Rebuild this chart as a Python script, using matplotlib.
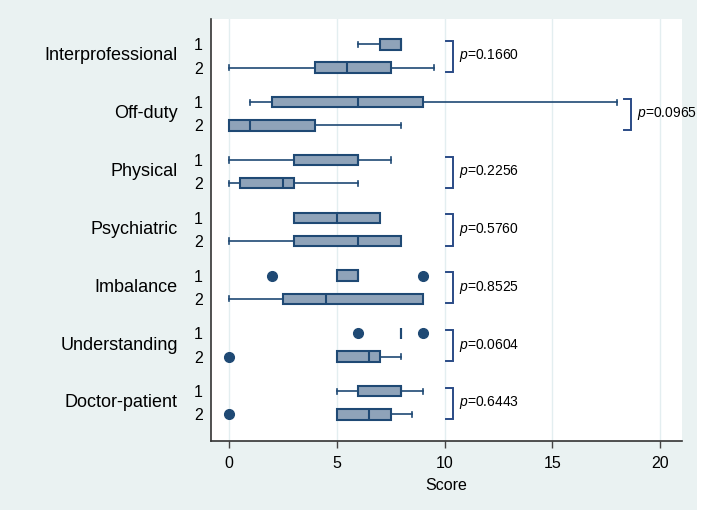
import matplotlib
matplotlib.use('Agg')
import matplotlib.pyplot as plt
from matplotlib.patches import Rectangle
import numpy as np

plt.rcParams['font.family'] = ['Liberation Sans', 'DejaVu Sans']
plt.rcParams['mathtext.fontset'] = 'custom'
plt.rcParams['mathtext.it'] = 'Liberation Sans:italic'
plt.rcParams['mathtext.rm'] = 'Liberation Sans'

# values
categories = ['Interprofessional', 'Off-duty', 'Physical', 'Psychiatric',
              'Imbalance', 'Understanding', 'Doctor-patient']
p_values = ['0.1660', '0.0965', '0.2256', '0.5760', '0.8525', '0.0604', '0.6443']

# group 1: whisker low, q1, median, q3, whisker high, outliers
g1_low = [6, 1, 0, 3, 5, 8, 5]
g1_q1 = [7, 2, 3, 3, 5, 8, 6]
g1_med = [8, 6, 6, 5, 6, 8, 8]
g1_q3 = [8, 9, 6, 7, 6, 8, 8]
g1_high = [8, 18, 7.5, 7, 6, 8, 9]
g1_out = [[], [], [], [], [2, 9], [6, 9], []]

# group 2
g2_low = [0, 0, 0, 0, 0, 5, 5]
g2_q1 = [4, 0, 0.5, 3, 2.5, 5, 5]
g2_med = [5.5, 1, 2.5, 6, 4.5, 6.5, 6.5]
g2_q3 = [7.5, 4, 3, 8, 9, 7, 7.5]
g2_high = [9.5, 8, 6, 8, 9, 8, 8.5]
g2_out = [[], [], [], [], [], [0], [0]]

navy = '#1f4974'
fill = '#8fa3b9'
bg = '#eaf2f2'

def make_stats(low, q1, med, q3, high, out):
    stats = []
    for i in range(len(low)):
        stats.append({'whislo': low[i], 'q1': q1[i], 'med': med[i], 'q3': q3[i],
                      'whishi': high[i], 'fliers': out[i]})
    return stats

gap = 2.5
pos1 = [i * gap for i in range(len(categories))]
pos2 = [p + 1 for p in pos1]

fig = plt.figure(figsize=(7.03, 5.13), dpi=100, facecolor=bg)
# thin white strips at right and bottom edge of the screenshot
fig.patches.append(Rectangle((0.991, 0), 0.009, 1, transform=fig.transFigure,
                             facecolor='white', edgecolor='none', zorder=-1))
fig.patches.append(Rectangle((0, 0), 1, 0.006, transform=fig.transFigure,
                             facecolor='white', edgecolor='none', zorder=-1))
ax = fig.add_axes([0.300, 0.1404, 0.670, 0.8226])
ax.set_facecolor('white')

style = dict(vert=False, widths=0.45, patch_artist=True,
             boxprops=dict(facecolor=fill, edgecolor=navy, linewidth=1.5),
             medianprops=dict(color=navy, linewidth=1.5),
             whiskerprops=dict(color=navy, linewidth=1.2),
             capprops=dict(color=navy, linewidth=1.2),
             flierprops=dict(marker='o', markerfacecolor=navy, markeredgecolor=navy,
                             markersize=7))
ax.bxp(make_stats(g1_low, g1_q1, g1_med, g1_q3, g1_high, g1_out), positions=pos1, **style)
ax.bxp(make_stats(g2_low, g2_q1, g2_med, g2_q3, g2_high, g2_out), positions=pos2, **style)

# p-value brackets
for i in range(len(categories)):
    top = max(g1_high[i], g2_high[i])
    bx = 10.05 if top < 10 else top + 0.3
    y1 = pos1[i] - 0.15
    y2 = pos2[i] + 0.2
    ax.plot([bx, bx + 0.35, bx + 0.35, bx], [y1, y1, y2, y2], color='#2a4b86', lw=1.4,
            solid_joinstyle='miter')
    ax.text(bx + 0.6, (pos1[i] + pos2[i]) / 2, '$p$=' + p_values[i], fontsize=10,
            va='center', ha='left')

ax.set_xlim(-0.83, 21)
ax.set_ylim(pos2[-1] + 1.15, -1.1)
ax.set_xticks([0, 5, 10, 15, 20])
ax.set_xlabel('Score', fontsize=11.5, labelpad=5)
ax.xaxis.grid(True, color='#e3eef0', lw=1)
ax.set_axisbelow(True)

yt = []
yl = []
for i in range(len(categories)):
    yt += [pos1[i], pos2[i]]
    yl += ['1', '2']
ax.set_yticks(yt)
ax.set_yticklabels(yl)
ax.tick_params(axis='y', length=0, pad=6, labelsize=11.5)
ax.tick_params(axis='x', length=5, width=1, color='#444444', labelsize=11.5, pad=5.5)

trans = ax.get_yaxis_transform()
for i, name in enumerate(categories):
    ax.text(-0.07, (pos1[i] + pos2[i]) / 2, name, transform=trans, ha='right',
            va='center', fontsize=13)

for s in ['top', 'right']:
    ax.spines[s].set_visible(False)
for s in ['left', 'bottom']:
    ax.spines[s].set_color('#333333')
    ax.spines[s].set_linewidth(1.2)

plt.savefig('out.png', dpi=100, facecolor=bg)
